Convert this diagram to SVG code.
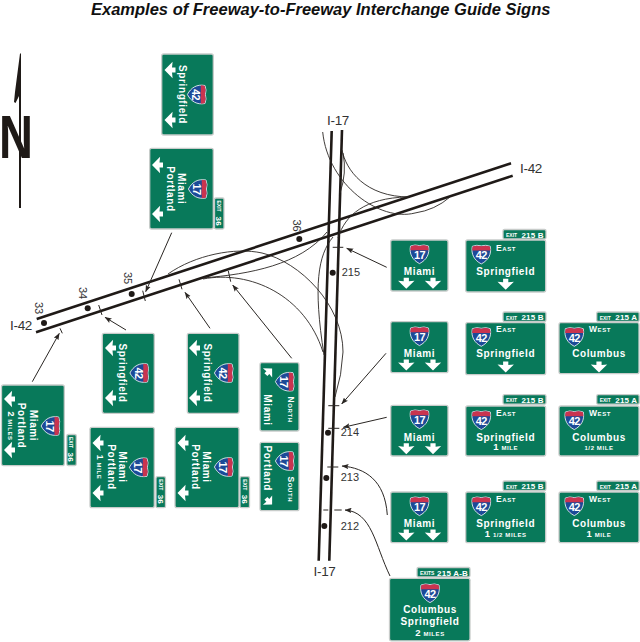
<svg xmlns="http://www.w3.org/2000/svg" width="640" height="642" viewBox="0 0 640 642">
<style>
text{font-family:"Liberation Sans",Arial,sans-serif}
.title{font-size:16.5px;font-weight:bold;font-style:italic;fill:#111}
.lab{font-size:13.5px;fill:#333;letter-spacing:-.3px}
.mm{font-size:11px;fill:#333}
.road{fill:none;stroke:#1f1a17;stroke-width:2.6}
.ramp{fill:none;stroke:#2a2623;stroke-width:.9}
.tick{fill:none;stroke:#2a2623;stroke-width:1}
.lead{fill:none;stroke:#2a2623;stroke-width:1;marker-end:url(#ah)}
.dot{fill:#1f1a17}
.s{fill:#08795a;stroke:#c8ccca;stroke-width:1.3}
.w{fill:#fff;font-weight:bold}
.d{font-size:10px;letter-spacing:.6px;text-anchor:middle}
.n{font-size:11px;text-anchor:middle;letter-spacing:-.5px;fill:#fff;font-weight:bold}
.c{font-size:8.5px;font-variant:small-caps;letter-spacing:.6px}
.m{font-size:6px;letter-spacing:.6px;text-anchor:middle}
.x{font-size:5px}
.t{font-size:8px;letter-spacing:.2px}
.e{text-anchor:end}
</style>
<defs>
<marker id="ah" viewBox="0 0 8 6" refX="7.5" refY="3" markerWidth="7" markerHeight="5.5" orient="auto" markerUnits="userSpaceOnUse"><path d="M0,0L8,3L0,6L1.5,3Z" fill="#2a2623"/></marker>
<path id="ar" d="M-2.6,-5.5H2.6V-2L8.2,-2.6L0,5.5L-8.2,-2.6L-2.6,-2Z" fill="#fff"/>
<g id="sh">
<path d="M-9,-8Q-4.5,-9.8 0,-8.4Q4.5,-9.8 9,-8C10.5,0 7,6 0,9.6C-7,6 -10.5,0 -9,-8Z" fill="#1c4a97" stroke="#fff" stroke-width=".8"/>
<path d="M-8.7,-7.7Q-4.5,-9.4 0,-8Q4.5,-9.4 8.7,-7.7L9.2,-3.8H-9.2Z" fill="#c9344f"/>
</g>
</defs>
<text class="title" x="91" y="15">Examples of Freeway-to-Freeway Interchange Guide Signs</text>

<g id="north-arrow">
<path d="M20,53.5L15,92L14,102L15.5,103L19,96V208H21V53.5Z" fill="#1f1a17"/>
<text x="-1" y="158" font-size="62" font-weight="bold" fill="#1f1a17" textLength="34" lengthAdjust="spacingAndGlyphs">N</text>
</g>

<g id="connectors">
<path class="road" d="M36.7,319L511,163.3"/>
<path class="road" d="M36,332.3L512.7,175.7"/>
<path class="road" d="M331.7,131L318.7,560.7"/>
<path class="road" d="M342,130L329.3,560.7"/>
<path class="ramp" d="M322.7,132C328,185 380,222 415,213Q435,210 450,197"/>
<path class="ramp" d="M342,150C346,170 365,197 410,197"/>
<path class="ramp" d="M343,153Q347,173 340,193"/>
<path class="ramp" d="M338,238C345,215 365,198 407,197"/>
<path class="ramp" d="M168,274C195,255 235,247 262,253C300,262 343,305 343,352Q342,375 335,397"/>
<path class="ramp" d="M203,278C250,274 300,265 327,232"/>
<path class="ramp" d="M203,279C250,270 305,295 323,352"/>
<path class="ramp" d="M333,237C318,255 313,285 324,355"/>
<path class="tick" d="M60,328.3L62.3,333.3M98.7,305L102,315M142.7,290.7L145.3,301M179,279.3L182,289.3M228.3,271L230.7,281.7"/>
<path class="tick" d="M332.7,247.3H343.3M328.3,405.7H339.3M328.3,428.3H339.3M327.3,467H338.3M323.3,510H328.3M334.3,510H341.7"/>
<path class="lead" d="M171.7,232.7L145.7,291.7"/>
<path class="lead" d="M32.3,381.7L59.3,333.3"/>
<path class="lead" d="M126,330L105,317.3"/>
<path class="lead" d="M210,328.3L185,292.3"/>
<path class="lead" d="M291.7,358.3L232.7,285"/>
<path class="lead" d="M386.7,267.3L346.7,248.3"/>
<path class="lead" d="M386,353.3L341.7,404"/>
<path class="lead" d="M386.7,417.3L343.3,427.3"/>
<path class="lead" d="M387.3,515C385,480 365,468 342,466"/>
<path class="lead" d="M390,576C375,545 372,512 345,510"/>
</g>

<g id="roadside-labels">
<text class="lab" x="10" y="330">I-42</text>
<text class="lab" x="520" y="173">I-42</text>
<text class="lab" x="327" y="125">I-17</text>
<text class="lab" x="313.5" y="576">I-17</text>
<circle class="dot" cx="44" cy="323" r="3"/><circle class="dot" cx="87.7" cy="308.3" r="3"/><circle class="dot" cx="131.7" cy="294" r="3"/><circle class="dot" cx="299.3" cy="239" r="3"/>
<circle class="dot" cx="332.7" cy="272.7" r="3"/><circle class="dot" cx="328" cy="432.7" r="3"/><circle class="dot" cx="326.3" cy="478" r="3"/><circle class="dot" cx="324.3" cy="526" r="3"/>
<text class="mm" transform="translate(34.5,302) rotate(90)">33</text>
<text class="mm" transform="translate(79,287) rotate(90)">34</text>
<text class="mm" transform="translate(124.3,272) rotate(90)">35</text>
<text class="mm" transform="translate(292.5,219.5) rotate(90)">36</text>
<text class="mm" x="341.7" y="275.5">215</text>
<text class="mm" x="340.7" y="436">214</text>
<text class="mm" x="340.7" y="481">213</text>
<text class="mm" x="340.7" y="530">212</text>
</g>

<g id="sign-overhead-springfield">
<rect class="s" x="161.7" y="54" width="51.6" height="81" rx="2"/>
<use href="#ar" transform="translate(170,70) rotate(90)"/><use href="#ar" transform="translate(170,120) rotate(90)"/>
<text class="w d" transform="translate(179,94.5) rotate(90)">Springfield</text>
<g transform="translate(197,94.5) rotate(90)"><use href="#sh"/><text class="n" y="5">42</text></g>
</g>

<g id="sign-overhead-miami">
<rect class="s" x="149.7" y="148.3" width="63.6" height="80.7" rx="2"/>
<use href="#ar" transform="translate(157.5,165) rotate(90)"/><use href="#ar" transform="translate(157.5,214) rotate(90)"/>
<text class="w d" transform="translate(178.3,188.7) rotate(90)">Miami</text>
<text class="w d" transform="translate(166.5,189) rotate(90)">Portland</text>
<g transform="translate(198,189) rotate(90)"><use href="#sh"/><text class="n" y="5">17</text></g>
<rect class="s" x="214.5" y="198" width="9.5" height="31" rx="1.5"/>
<text class="w x" transform="translate(217,200.5) rotate(90)">EXIT</text>
<text class="w t" transform="translate(216,216.5) rotate(90)">36</text>
</g>

<g id="sign-2-miles">
<rect class="s" x="1.5" y="385" width="62.8" height="80.7" rx="2"/>
<use href="#ar" transform="translate(9.5,399) rotate(90)"/><use href="#ar" transform="translate(9.5,450) rotate(90)"/>
<text class="w d" transform="translate(30,425.5) rotate(90)">Miami</text>
<text class="w d" transform="translate(18,425.5) rotate(90)">Portland</text>
<text class="w m" transform="translate(8,426) rotate(90)"><tspan font-size="9">2</tspan> MILES</text>
<g transform="translate(50.7,426) rotate(90)"><use href="#sh"/><text class="n" y="5">17</text></g>
<rect class="s" x="66.8" y="434.5" width="9.5" height="31" rx="1.5"/>
<text class="w x" transform="translate(69.3,437) rotate(90)">EXIT</text>
<text class="w t" transform="translate(68.3,452.5) rotate(90)">36</text>
</g>

<g id="sign-left-springfield-a">
<rect class="s" x="102.3" y="333.3" width="52" height="80" rx="2"/>
<use href="#ar" transform="translate(110.5,348) rotate(90)"/><use href="#ar" transform="translate(110.5,398) rotate(90)"/>
<text class="w d" transform="translate(119,373) rotate(90)">Springfield</text>
<g transform="translate(139.5,373) rotate(90)"><use href="#sh"/><text class="n" y="5">42</text></g>
</g>

<g id="sign-1-mile">
<rect class="s" x="90" y="427.3" width="64.3" height="80.4" rx="2"/>
<use href="#ar" transform="translate(98,443) rotate(90)"/><use href="#ar" transform="translate(98,493) rotate(90)"/>
<text class="w d" transform="translate(119,467) rotate(90)">Miami</text>
<text class="w d" transform="translate(107.7,467) rotate(90)">Portland</text>
<text class="w m" transform="translate(96.5,467) rotate(90)"><tspan font-size="9">1</tspan> MILE</text>
<g transform="translate(139,467.3) rotate(90)"><use href="#sh"/><text class="n" y="5">17</text></g>
<rect class="s" x="156" y="476.7" width="9.5" height="31" rx="1.5"/>
<text class="w x" transform="translate(158.5,479.2) rotate(90)">EXIT</text>
<text class="w t" transform="translate(157.5,494.7) rotate(90)">36</text>
</g>

<g id="sign-left-springfield-b">
<rect class="s" x="187.3" y="333.3" width="51.7" height="80" rx="2"/>
<use href="#ar" transform="translate(194.5,348) rotate(90)"/><use href="#ar" transform="translate(194.5,398) rotate(90)"/>
<text class="w d" transform="translate(204,373) rotate(90)">Springfield</text>
<g transform="translate(224,373) rotate(90)"><use href="#sh"/><text class="n" y="5">42</text></g>
</g>

<g id="sign-left-miami-b">
<rect class="s" x="175" y="427.3" width="64" height="80.4" rx="2"/>
<use href="#ar" transform="translate(183,443) rotate(90)"/><use href="#ar" transform="translate(183,493) rotate(90)"/>
<text class="w d" transform="translate(203.3,467) rotate(90)">Miami</text>
<text class="w d" transform="translate(192,467) rotate(90)">Portland</text>
<g transform="translate(224,467) rotate(90)"><use href="#sh"/><text class="n" y="5">17</text></g>
<rect class="s" x="240" y="476.7" width="9.5" height="31" rx="1.5"/>
<text class="w x" transform="translate(242.5,479.2) rotate(90)">EXIT</text>
<text class="w t" transform="translate(241.5,494.7) rotate(90)">36</text>
</g>

<g id="sign-north">
<rect class="s" x="260" y="362.7" width="39" height="68.3" rx="2"/>
<use href="#ar" transform="translate(269,371.5) rotate(225) scale(.8)"/>
<text class="w d" transform="translate(264,410) rotate(90)">Miami</text>
<text class="w c" transform="translate(288,396.5) rotate(90)">North</text>
<g transform="translate(285,381.7) rotate(90)"><use href="#sh"/><text class="n" y="5">17</text></g>
</g>

<g id="sign-south">
<rect class="s" x="260" y="442.3" width="39" height="68.4" rx="2"/>
<use href="#ar" transform="translate(269,501.5) rotate(-45) scale(.8)"/>
<text class="w d" transform="translate(264,468.2) rotate(90)">Portland</text>
<text class="w c" transform="translate(288,476.5) rotate(90)">South</text>
<g transform="translate(285,461) rotate(90)"><use href="#sh"/><text class="n" y="5">17</text></g>
</g>

<g id="sign-miami-1">
<rect class="s" x="390.7" y="240" width="57.3" height="51" rx="2"/>
<use href="#sh" x="419.5" y="254"/><text class="n" x="419.5" y="259">17</text>
<text class="w d" x="419.5" y="274.7">Miami</text>
<use href="#ar" x="406.3" y="283.3"/><use href="#ar" x="433" y="283.3"/>
</g>
<g id="sign-springfield-1">
<rect class="s" x="465.7" y="240" width="80" height="52" rx="2"/>
<use href="#sh" x="481.3" y="254.3"/><text class="n" x="481.3" y="259.3">42</text>
<text class="w c" x="496" y="250.7">East</text>
<text class="w d" x="505.7" y="274.7">Springfield</text>
<use href="#ar" x="505.7" y="284.3"/>
<rect class="s" x="503" y="229.5" width="43" height="9.5" rx="1.5"/>
<text class="w x" x="506" y="237">EXIT</text><text class="w t e" x="543.8" y="237.5">215 B</text>
</g>

<g id="sign-miami-2">
<rect class="s" x="390.7" y="321.7" width="57.3" height="51" rx="2"/>
<use href="#sh" x="419.5" y="336"/><text class="n" x="419.5" y="341">17</text>
<text class="w d" x="419.5" y="356.7">Miami</text>
<use href="#ar" x="406.3" y="365"/><use href="#ar" x="433" y="365"/>
</g>
<g id="sign-springfield-2">
<rect class="s" x="465.7" y="322.7" width="80" height="52" rx="2"/>
<use href="#sh" x="481.3" y="336.7"/><text class="n" x="481.3" y="341.7">42</text>
<text class="w c" x="496" y="332.3">East</text>
<text class="w d" x="505.7" y="357">Springfield</text>
<use href="#ar" x="505.7" y="367"/>
<rect class="s" x="503" y="312" width="43" height="9.5" rx="1.5"/>
<text class="w x" x="506" y="319.5">EXIT</text><text class="w t e" x="543.8" y="320">215 B</text>
</g>
<g id="sign-columbus-2">
<rect class="s" x="559" y="322.7" width="80" height="51" rx="2"/>
<use href="#sh" x="574.3" y="336.7"/><text class="n" x="574.3" y="341.7">42</text>
<text class="w c" x="589" y="332.3">West</text>
<text class="w d" x="599" y="357">Columbus</text>
<use href="#ar" x="599" y="367"/>
<rect class="s" x="596.7" y="312" width="42.5" height="9.5" rx="1.5"/>
<text class="w x" x="599.7" y="319.5">EXIT</text><text class="w t e" x="637.3" y="320">215 A</text>
</g>

<g id="sign-miami-3">
<rect class="s" x="390.7" y="405.3" width="57.3" height="50.7" rx="2"/>
<use href="#sh" x="419.5" y="419"/><text class="n" x="419.5" y="424">17</text>
<text class="w d" x="419.5" y="440.7">Miami</text>
<use href="#ar" x="406.3" y="448.7"/><use href="#ar" x="433" y="448.7"/>
</g>
<g id="sign-springfield-3">
<rect class="s" x="465.7" y="406" width="80" height="50" rx="2"/>
<use href="#sh" x="481.3" y="420"/><text class="n" x="481.3" y="425">42</text>
<text class="w c" x="496" y="416">East</text>
<text class="w d" x="505.7" y="440.7">Springfield</text>
<text class="w m" x="505.7" y="450.3"><tspan font-size="9.5">1</tspan> MILE</text>
<rect class="s" x="503" y="394.7" width="43" height="9.5" rx="1.5"/>
<text class="w x" x="506" y="402.2">EXIT</text><text class="w t e" x="543.8" y="402.7">215 B</text>
</g>
<g id="sign-columbus-3">
<rect class="s" x="559" y="406" width="80" height="50" rx="2"/>
<use href="#sh" x="574.3" y="420"/><text class="n" x="574.3" y="425">42</text>
<text class="w c" x="589" y="416">West</text>
<text class="w d" x="599" y="440.7">Columbus</text>
<text class="w m" x="599" y="450.3">1/2 MILE</text>
<rect class="s" x="596.7" y="394.7" width="42.5" height="9.5" rx="1.5"/>
<text class="w x" x="599.7" y="402.2">EXIT</text><text class="w t e" x="637.3" y="402.7">215 A</text>
</g>

<g id="sign-miami-4">
<rect class="s" x="390.7" y="492" width="57.3" height="50.7" rx="2"/>
<use href="#sh" x="419.5" y="506"/><text class="n" x="419.5" y="511">17</text>
<text class="w d" x="419.5" y="526.7">Miami</text>
<use href="#ar" x="406.3" y="535"/><use href="#ar" x="433" y="535"/>
</g>
<g id="sign-springfield-4">
<rect class="s" x="465.7" y="492" width="80" height="50.7" rx="2"/>
<use href="#sh" x="481.3" y="506"/><text class="n" x="481.3" y="511">42</text>
<text class="w c" x="496" y="502">East</text>
<text class="w d" x="505.7" y="526.7">Springfield</text>
<text class="w m" x="505.7" y="536.7"><tspan font-size="9.5">1</tspan> 1/2 MILES</text>
<rect class="s" x="503" y="481" width="43" height="9.5" rx="1.5"/>
<text class="w x" x="506" y="488.5">EXIT</text><text class="w t e" x="543.8" y="489">215 B</text>
</g>
<g id="sign-columbus-4">
<rect class="s" x="559" y="492" width="80" height="50.7" rx="2"/>
<use href="#sh" x="574.3" y="506"/><text class="n" x="574.3" y="511">42</text>
<text class="w c" x="589" y="502">West</text>
<text class="w d" x="599" y="526.7">Columbus</text>
<text class="w m" x="599" y="536.7"><tspan font-size="9.5">1</tspan> MILE</text>
<rect class="s" x="596.7" y="481" width="42.5" height="9.5" rx="1.5"/>
<text class="w x" x="599.7" y="488.5">EXIT</text><text class="w t e" x="637.3" y="489">215 A</text>
</g>

<g id="sign-bottom">
<rect class="s" x="389.5" y="578.3" width="80.5" height="62.5" rx="2"/>
<use href="#sh" x="430" y="593"/><text class="n" x="430" y="598">42</text>
<text class="w d" x="430" y="613">Columbus</text>
<text class="w d" x="430" y="625">Springfield</text>
<text class="w m" x="430" y="635.7"><tspan font-size="9.5">2</tspan> MILES</text>
<rect class="s" x="417" y="567.5" width="53" height="9.5" rx="1.5"/>
<text class="w x" x="420" y="575">EXITS</text><text class="w t e" x="468" y="575.5" letter-spacing="0">215 A-B</text>
</g>
</svg>
